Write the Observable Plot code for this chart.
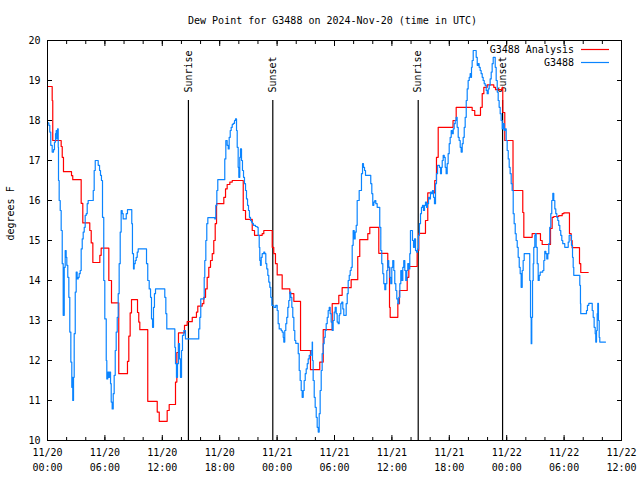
<!DOCTYPE html>
<html>
<head>
<meta charset="utf-8">
<script src="https://cdn.jsdelivr.net/npm/d3@7"></script>
<script src="https://cdn.jsdelivr.net/npm/@observablehq/plot@0.6"></script>
<style>
html,body{margin:0;padding:0;background:#fff;}
#chart svg{display:block;}
</style>
</head>
<body>
<div id="chart"></div>
<script>
const chartTitle = "Dew Point for G3488 on 2024-Nov-20 (time in UTC)";
const yLabel = "degrees F";
const startISO = "2024-11-20T00:00:00Z";
const spanHours = 60;
const yRange = [10, 20];
const yTickValues = [10, 11, 12, 13, 14, 15, 16, 17, 18, 19, 20];
const labelTickHours = 6;
const minorTickHours = 2;
const seriesNames = ["G3488 Analysis", "G3488"];
const seriesColors = ["#ff0000", "#0a84ff"];
const eventHours = [14.73, 23.55, 38.75, 47.57];
const eventNames = ["Sunrise", "Sunset", "Sunrise", "Sunset"];

// [hours since 11/20 00:00 UTC, dew point °F]
const analysisReadings = [[0,18.85],[0.49,18.5],[0.55,17.5],[1.43,17.35],[1.54,17.08],[1.67,16.72],[2.51,16.62],[2.64,16.52],[3.52,15.93],[3.69,15.44],[4.42,15.25],[4.57,14.94],[4.74,14.45],[5.47,14.63],[5.61,14.81],[6.41,14.0],[6.69,13.44],[7.45,11.67],[8.36,11.98],[8.50,12.61],[8.64,13.19],[8.78,13.52],[9.41,13.2],[9.54,12.96],[9.65,12.77],[10.48,10.98],[11.47,10.71],[11.68,10.48],[12.51,10.75],[12.72,10.9],[13.38,11.46],[13.52,12.2],[13.69,12.69],[14.32,12.88],[14.60,12.97],[15.13,13.08],[15.57,13.21],[15.71,13.36],[16.17,13.42],[16.34,13.58],[16.52,13.79],[16.69,14.08],[16.86,14.33],[17.04,14.5],[17.22,14.67],[17.38,15.0],[17.53,15.42],[17.67,15.92],[18.43,16.08],[18.61,16.29],[18.78,16.4],[19.06,16.46],[19.31,16.5],[20.46,15.75],[20.70,15.53],[21.40,15.25],[21.64,15.13],[22.44,15.17],[22.61,15.25],[23.49,14.83],[23.65,14.67],[23.83,14.42],[24.01,14.14],[24.53,13.79],[25.33,13.67],[25.75,13.48],[26.45,12.25],[27.49,11.77],[28.46,11.96],[28.82,12.77],[29.76,13.42],[30.45,13.63],[30.80,13.82],[31.74,14.02],[32.43,14.6],[32.64,15.02],[33.48,15.17],[33.69,15.33],[34.63,14.68],[35.57,14.33],[35.75,13.33],[35.82,13.08],[36.62,13.42],[36.79,13.75],[37.60,14.08],[37.77,14.35],[38.64,14.75],[38.81,15.18],[39.51,15.5],[39.75,16.19],[40.48,16.5],[40.66,17.08],[40.84,17.83],[42.39,18.0],[42.72,18.33],[44.39,18.25],[44.66,18.13],[45.26,18.33],[45.44,18.67],[45.61,18.83],[45.96,18.89],[46.65,18.83],[46.83,18.77],[47.53,18.83],[47.59,18.2],[47.80,17.5],[48.66,16.25],[49.68,15.7],[49.79,15.08],[50.66,15.17],[51.53,15.0],[51.71,14.9],[52.58,15.3],[52.75,15.58],[52.92,15.6],[53.44,15.62],[53.80,15.67],[53.97,15.69],[54.56,15.17],[54.74,15.0],[54.84,14.82],[55.61,14.42],[55.74,14.2],[56.52,14.2]];

const observedReadings = [[0,17.94],[0.14,17.88],[0.24,17.71],[0.34,17.38],[0.49,17.21],[0.63,17.27],[0.73,17.46],[0.84,17.67],[0.91,17.75],[0.97,17.54],[1.05,17.79],[1.12,17.33],[1.15,16.5],[1.22,16.0],[1.33,15.75],[1.43,15.25],[1.54,14.42],[1.64,13.13],[1.75,14.33],[1.85,14.75],[1.95,14.58],[2.02,14.38],[2.12,14.08],[2.23,13.58],[2.33,12.71],[2.44,11.96],[2.54,11.33],[2.58,11.58],[2.64,11.0],[2.72,11.58],[2.79,12.67],[2.90,13.71],[3.00,14.21],[3.10,14.04],[3.21,14.08],[3.31,14.17],[3.42,14.25],[3.52,14.79],[3.63,15.04],[3.73,15.21],[3.84,15.33],[3.94,15.63],[4.05,15.67],[4.15,15.92],[4.25,16.0],[4.78,16.25],[4.88,16.75],[4.99,17.0],[5.30,16.88],[5.44,16.75],[5.54,16.63],[5.64,16.5],[5.75,15.58],[5.88,14.0],[5.99,13.04],[6.14,12.0],[6.20,11.54],[6.30,11.71],[6.41,11.58],[6.48,11.71],[6.59,11.42],[6.66,10.96],[6.76,10.79],[6.87,11.17],[6.97,11.63],[7.08,12.25],[7.18,12.71],[7.29,13.08],[7.39,13.67],[7.49,14.42],[7.60,15.21],[7.70,15.75],[7.81,15.67],[7.91,15.54],[8.23,15.67],[8.36,15.77],[8.81,15.42],[8.88,14.67],[8.99,14.29],[9.06,14.42],[9.17,14.5],[9.27,14.58],[9.38,14.71],[9.48,14.79],[10.35,14.42],[10.48,14.0],[10.63,13.79],[10.77,13.58],[10.87,13.04],[10.98,12.83],[11.08,13.33],[11.18,13.67],[11.29,13.79],[12.26,13.58],[12.37,13.17],[12.47,12.79],[13.31,12.33],[13.38,11.92],[13.48,11.58],[13.59,11.92],[13.69,12.42],[13.80,12.04],[13.90,11.58],[14.01,12.25],[14.11,12.63],[14.25,12.75],[14.42,12.54],[15.81,12.79],[15.92,13.08],[16.02,13.54],[16.38,14.08],[16.44,14.5],[16.55,15.0],[16.65,15.42],[16.76,15.57],[17.49,15.54],[17.59,15.88],[17.70,16.25],[17.80,16.52],[18.53,17.04],[18.64,17.5],[18.78,17.38],[18.89,17.29],[18.99,17.58],[19.10,17.75],[19.20,17.83],[19.31,17.9],[19.41,17.93],[19.55,18.0],[19.65,18.04],[19.76,17.75],[19.83,17.33],[19.93,16.83],[20.00,16.58],[20.10,17.08],[20.17,17.29],[20.28,17.0],[20.38,16.75],[20.49,16.58],[20.59,16.42],[20.70,16.25],[20.80,16.04],[20.91,15.88],[21.01,15.75],[21.11,15.58],[21.22,15.5],[21.32,15.46],[21.43,15.42],[21.53,15.38],[21.74,15.35],[21.92,15.33],[22.02,15.13],[22.13,14.83],[22.19,14.5],[22.26,14.38],[22.34,14.58],[22.44,14.67],[22.61,14.71],[22.71,14.67],[22.82,14.42],[22.92,14.29],[23.03,14.13],[23.13,13.96],[23.24,13.83],[23.34,13.58],[23.45,13.38],[23.65,13.33],[23.86,13.38],[24.01,13.25],[24.11,12.92],[24.22,12.79],[24.43,12.75],[24.53,12.71],[24.64,12.58],[24.70,12.46],[24.80,12.75],[24.91,12.92],[25.01,13.08],[25.12,13.33],[25.22,13.5],[25.33,13.71],[25.43,13.58],[25.54,13.33],[25.64,13.08],[25.75,12.75],[25.85,12.5],[25.95,12.43],[26.21,12.17],[26.31,11.75],[26.41,11.5],[26.52,11.25],[26.62,11.08],[26.73,11.25],[26.83,11.5],[26.94,11.67],[27.04,11.79],[27.15,11.92],[27.25,12.04],[27.36,12.13],[27.56,12.25],[27.67,12.46],[27.70,12.0],[27.77,11.5],[27.88,11.08],[27.98,10.83],[28.09,10.58],[28.19,10.33],[28.30,10.21],[28.40,10.67],[28.50,11.25],[28.61,11.75],[28.71,12.17],[28.82,12.42],[28.92,12.58],[29.03,12.75],[29.13,12.92],[29.24,13.08],[29.34,13.25],[29.45,13.33],[29.55,13.17],[29.65,12.96],[29.76,12.75],[29.86,13.0],[29.97,13.21],[30.07,13.33],[30.18,13.17],[30.28,12.96],[30.39,12.92],[30.49,13.13],[30.55,13.17],[30.66,13.42],[30.76,13.46],[30.87,13.29],[30.97,13.13],[31.22,13.42],[31.33,13.67],[31.43,14.0],[31.54,14.13],[31.64,14.25],[31.74,14.33],[31.85,14.88],[31.95,15.25],[32.06,15.04],[32.16,15.21],[32.27,15.38],[32.37,16.0],[32.58,16.25],[32.82,16.67],[32.93,16.92],[33.03,16.83],[33.14,16.75],[33.24,16.63],[33.79,16.42],[33.90,16.17],[34.00,15.88],[34.11,15.96],[34.21,16.0],[34.32,15.92],[34.46,15.83],[34.73,15.33],[34.84,14.75],[34.94,14.42],[35.05,14.17],[35.15,13.92],[35.26,13.77],[35.36,13.92],[35.47,14.25],[35.57,14.5],[35.67,14.33],[35.78,14.08],[35.88,13.92],[35.99,14.33],[36.09,14.5],[36.20,14.25],[36.30,13.92],[36.41,13.75],[36.51,13.54],[36.62,13.42],[36.72,13.58],[36.83,13.92],[36.93,14.25],[37.03,14.0],[37.14,14.33],[37.24,14.5],[37.35,14.25],[37.45,14.0],[37.56,14.25],[37.66,14.42],[37.77,14.29],[37.87,14.67],[37.94,15.25],[38.15,15.0],[38.26,14.83],[38.36,15.04],[38.47,14.75],[38.57,14.71],[38.68,14.79],[38.78,15.13],[38.88,15.42],[38.99,15.67],[39.09,15.83],[39.20,15.88],[39.30,15.75],[39.41,15.88],[39.51,15.96],[39.62,15.83],[39.72,15.92],[39.83,16.08],[39.93,16.04],[40.03,16.21],[40.14,16.17],[40.24,16.25],[40.35,16.08],[40.45,15.92],[40.56,16.42],[40.66,16.67],[40.77,16.88],[40.97,16.83],[41.08,16.67],[41.18,16.83],[41.26,17.0],[41.36,17.13],[41.47,17.08],[41.57,16.83],[41.67,16.67],[41.78,16.92],[41.88,17.17],[41.99,17.42],[42.09,17.58],[42.20,17.75],[42.30,17.67],[42.41,17.79],[42.51,17.92],[42.62,18.0],[42.72,18.08],[42.82,17.83],[42.93,17.58],[43.03,17.5],[43.14,17.33],[43.24,17.21],[43.35,17.42],[43.45,17.58],[43.56,17.83],[43.66,18.08],[43.77,18.5],[43.87,18.79],[43.97,19.0],[44.08,19.08],[44.18,19.17],[44.29,19.08],[44.32,19.33],[44.39,19.5],[44.50,19.75],[44.81,19.58],[44.92,19.38],[45.02,19.42],[45.12,19.33],[45.23,19.25],[45.33,19.17],[45.44,19.08],[45.54,19.0],[45.65,18.92],[45.75,18.88],[45.86,18.75],[45.96,18.67],[46.07,18.79],[46.17,18.88],[46.27,19.04],[46.38,19.21],[46.48,19.42],[46.59,19.58],[46.80,19.33],[46.90,19.0],[47.01,18.71],[47.11,18.5],[47.21,18.33],[47.32,18.17],[47.42,18.0],[47.53,17.79],[47.63,17.92],[47.74,17.75],[47.84,17.79],[47.95,17.5],[48.05,17.25],[48.16,17.04],[48.26,16.83],[48.36,16.67],[48.47,16.42],[48.57,16.25],[48.68,15.67],[48.78,15.42],[48.89,15.17],[48.99,15.0],[49.10,14.83],[49.20,14.58],[49.31,14.33],[49.41,14.17],[49.51,13.83],[49.62,14.25],[49.72,14.5],[49.83,14.67],[50.41,14.0],[50.49,13.08],[50.56,12.42],[50.62,13.08],[50.70,14.0],[50.77,14.42],[50.83,14.83],[50.94,15.13],[51.01,15.17],[51.08,14.83],[51.19,14.42],[51.29,14.0],[51.40,14.13],[51.50,14.21],[51.77,14.25],[51.88,14.5],[51.98,14.73],[52.09,14.67],[52.19,14.54],[52.30,14.67],[52.40,14.92],[52.50,15.33],[52.61,15.67],[52.71,16.0],[52.82,16.18],[52.92,16.0],[53.03,15.79],[53.13,15.67],[53.24,15.58],[53.34,15.5],[53.44,15.38],[53.55,15.25],[53.65,15.13],[53.76,15.0],[53.86,14.92],[54.07,14.83],[54.43,14.96],[54.53,15.13],[54.77,14.88],[54.88,14.58],[54.95,14.33],[55.01,14.13],[55.64,13.88],[55.71,13.42],[55.74,13.17],[56.34,13.25],[56.44,13.38],[56.58,13.43],[56.94,13.25],[57.04,13.08],[57.14,12.83],[57.25,12.67],[57.31,12.46],[57.39,12.75],[57.46,13.17],[57.52,13.43],[57.59,13.0],[57.67,12.58],[57.73,12.46],[58.33,12.46]];

const t0 = new Date(startISO);
const toDate = h => new Date(t0.getTime() + h * 3600000);
const tEnd = toDate(spanHours);
const toRows = (arr, name) => arr.map(([h, v]) => ({time: toDate(h), value: v, series: name}));
const analysisRows = toRows(analysisReadings, seriesNames[0]);
const observedRows = toRows(observedReadings, seriesNames[1]);
const events = eventHours.map((h, i) => ({time: toDate(h), name: eventNames[i]}));
const tickEnd = new Date(tEnd.getTime() + 1);
const labelTicks = d3.utcHour.every(labelTickHours).range(t0, tickEnd);
const minorTicks = d3.utcHour.every(minorTickHours).range(t0, tickEnd);
const yLow = yRange[0], ySpan = yRange[1] - yRange[0];
const eventTop = yLow + 0.85 * ySpan;
const eventTextY = yLow + 0.87 * ySpan;
const fmtDay = d3.utcFormat("%m/%d"), fmtTime = d3.utcFormat("%H:%M");
const tickFmt = d => fmtDay(d) + "\n" + fmtTime(d);
const FONT = "'DejaVu Sans Mono', monospace";

function legendMark(index, scales, values, dims) {
  const right = dims.width - dims.marginRight;
  const g = d3.create("svg:g").attr("font-family", FONT).attr("font-size", 10);
  seriesNames.forEach((name, i) => {
    const y = dims.marginTop + 9.5 + i * 13;
    g.append("text").attr("x", right - 47).attr("y", y).attr("dy", "0.35em")
      .attr("text-anchor", "end").attr("fill", "black").text(name);
    g.append("line").attr("x1", right - 40).attr("x2", right - 12)
      .attr("y1", y).attr("y2", y).attr("stroke", seriesColors[i])
      .attr("stroke-width", 1.2);
  });
  return g.node();
}

const chart = Plot.plot({
  width: 640,
  height: 480,
  marginLeft: 47,
  marginRight: 19,
  marginTop: 40,
  marginBottom: 40,
  style: {fontFamily: FONT, fontSize: "10px", color: "black", background: "white", overflow: "visible"},
  x: {type: "utc", domain: [t0, tEnd], label: null},
  y: {domain: yRange, label: null},
  marks: [
    Plot.ruleX(events, {x: "time", y1: yLow, y2: eventTop, stroke: "black", strokeWidth: 1.2}),
    Plot.text(events, {x: "time", y: eventTextY, text: "name", rotate: -90, textAnchor: "start", lineAnchor: "middle", fill: "black"}),
    Plot.line(analysisRows, {x: "time", y: "value", stroke: seriesColors[0], strokeWidth: 1.2, curve: "step-after"}),
    Plot.line(observedRows, {x: "time", y: "value", stroke: seriesColors[1], strokeWidth: 1.2, curve: "step-after"}),
    Plot.axisY(yTickValues, {anchor: "left", tickSize: -5, fill: "none", label: null}),
    Plot.axisY(yTickValues, {anchor: "right", tickSize: -5, fill: "none", label: null}),
    Plot.axisY(yTickValues, {anchor: "left", tickSize: 0, tickPadding: 7, tickFormat: d => String(d), label: null}),
    Plot.axisX(minorTicks, {anchor: "bottom", tickSize: -3, fill: "none", label: null}),
    Plot.axisX(minorTicks, {anchor: "top", tickSize: -3, fill: "none", label: null}),
    Plot.axisX(labelTicks, {anchor: "bottom", tickSize: -5, fill: "none", label: null}),
    Plot.axisX(labelTicks, {anchor: "top", tickSize: -5, fill: "none", label: null}),
    Plot.axisX(labelTicks, {anchor: "bottom", tickSize: 0, tickPadding: 5, tickFormat: tickFmt, lineHeight: 1.5, label: null}),
    Plot.frame({stroke: "black", strokeWidth: 1, shapeRendering: "crispEdges"}),
    Plot.text([chartTitle], {frameAnchor: "top", dy: -20, dx: -2, text: d => d, lineAnchor: "middle", fill: "black"}),
    Plot.text([yLabel], {frameAnchor: "left", dx: -37, rotate: -90, text: d => d, lineAnchor: "middle", fill: "black"}),
    legendMark
  ]
});
document.getElementById("chart").append(chart);
</script>
</body>
</html>
